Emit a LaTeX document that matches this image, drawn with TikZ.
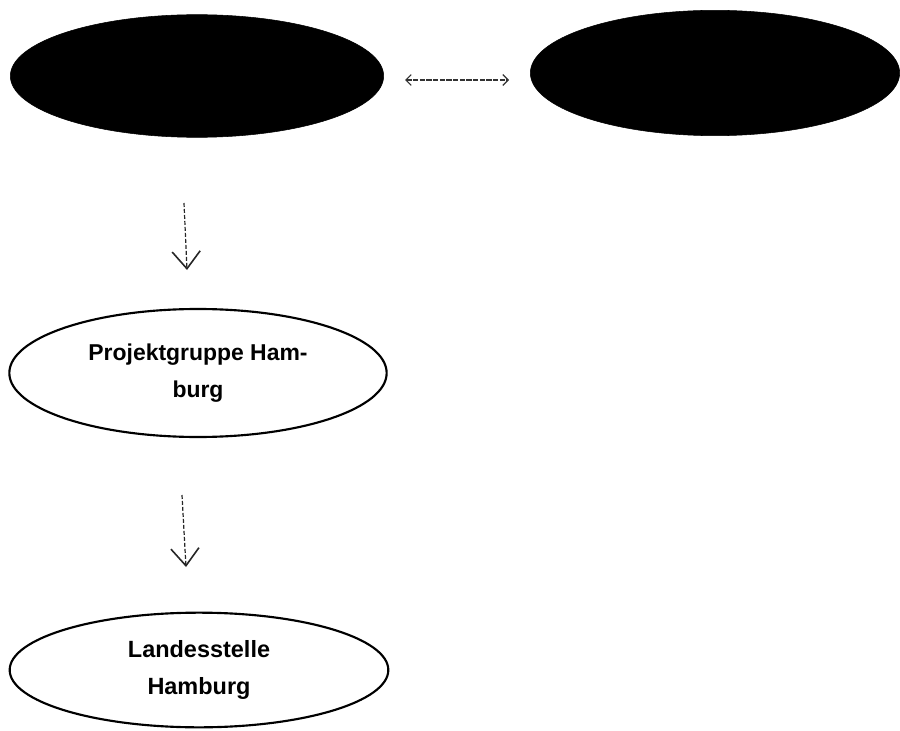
\documentclass[tikz,border=0pt]{standalone}
\usepackage{fontspec}
\setmainfont{Liberation Sans}
\usetikzlibrary{shapes.geometric,arrows.meta}
\begin{document}
\begin{tikzpicture}[x=0.75pt,y=-0.75pt,
  blackell/.style={ellipse,fill=black,draw=black,inner sep=0pt},
  whiteell/.style={ellipse,draw=black,line width=1.6pt,inner sep=0pt,align=center,
     font=\fontsize{17.2pt}{27.8pt}\selectfont\bfseries},
  vflow/.style={draw=black!85,line width=0.9pt,dash pattern=on 3pt off 1.5pt,
     -{Straight Barb[length=13pt,width=21pt,line width=1.2pt]}},
  hflow/.style={draw=black!80,line width=0.9pt,dash pattern=on 4pt off 1pt,
     {Straight Barb[length=4pt,width=8pt]}-{Straight Barb[length=4pt,width=8pt]}}]
\useasboundingbox (0,0) rectangle (900,731);
\node[blackell,minimum width=280pt,minimum height=92pt] (e1) at (197,76) {};
\node[blackell,minimum width=277pt,minimum height=94pt] (e2) at (715,73) {};
\node[whiteell,minimum width=283pt,minimum height=96pt] (e3) at (198,373) {Projektgruppe Ham-\\burg};
\node[whiteell,minimum width=284pt,minimum height=86pt,font=\fontsize{17.6pt}{27.8pt}\selectfont\bfseries] (e4) at (199,670) {Landesstelle\\Hamburg};
\coordinate (h1) at (405,80);
\coordinate (h2) at (509,80);
\draw[hflow] (h1) -- (h2);
\coordinate (v1s) at (184,203);
\coordinate (v1e) at (187,270);
\draw[vflow] (v1s) -- (v1e);
\coordinate (v2s) at (182,495);
\coordinate (v2e) at (186,567);
\draw[vflow] (v2s) -- (v2e);
\end{tikzpicture}
\end{document}
